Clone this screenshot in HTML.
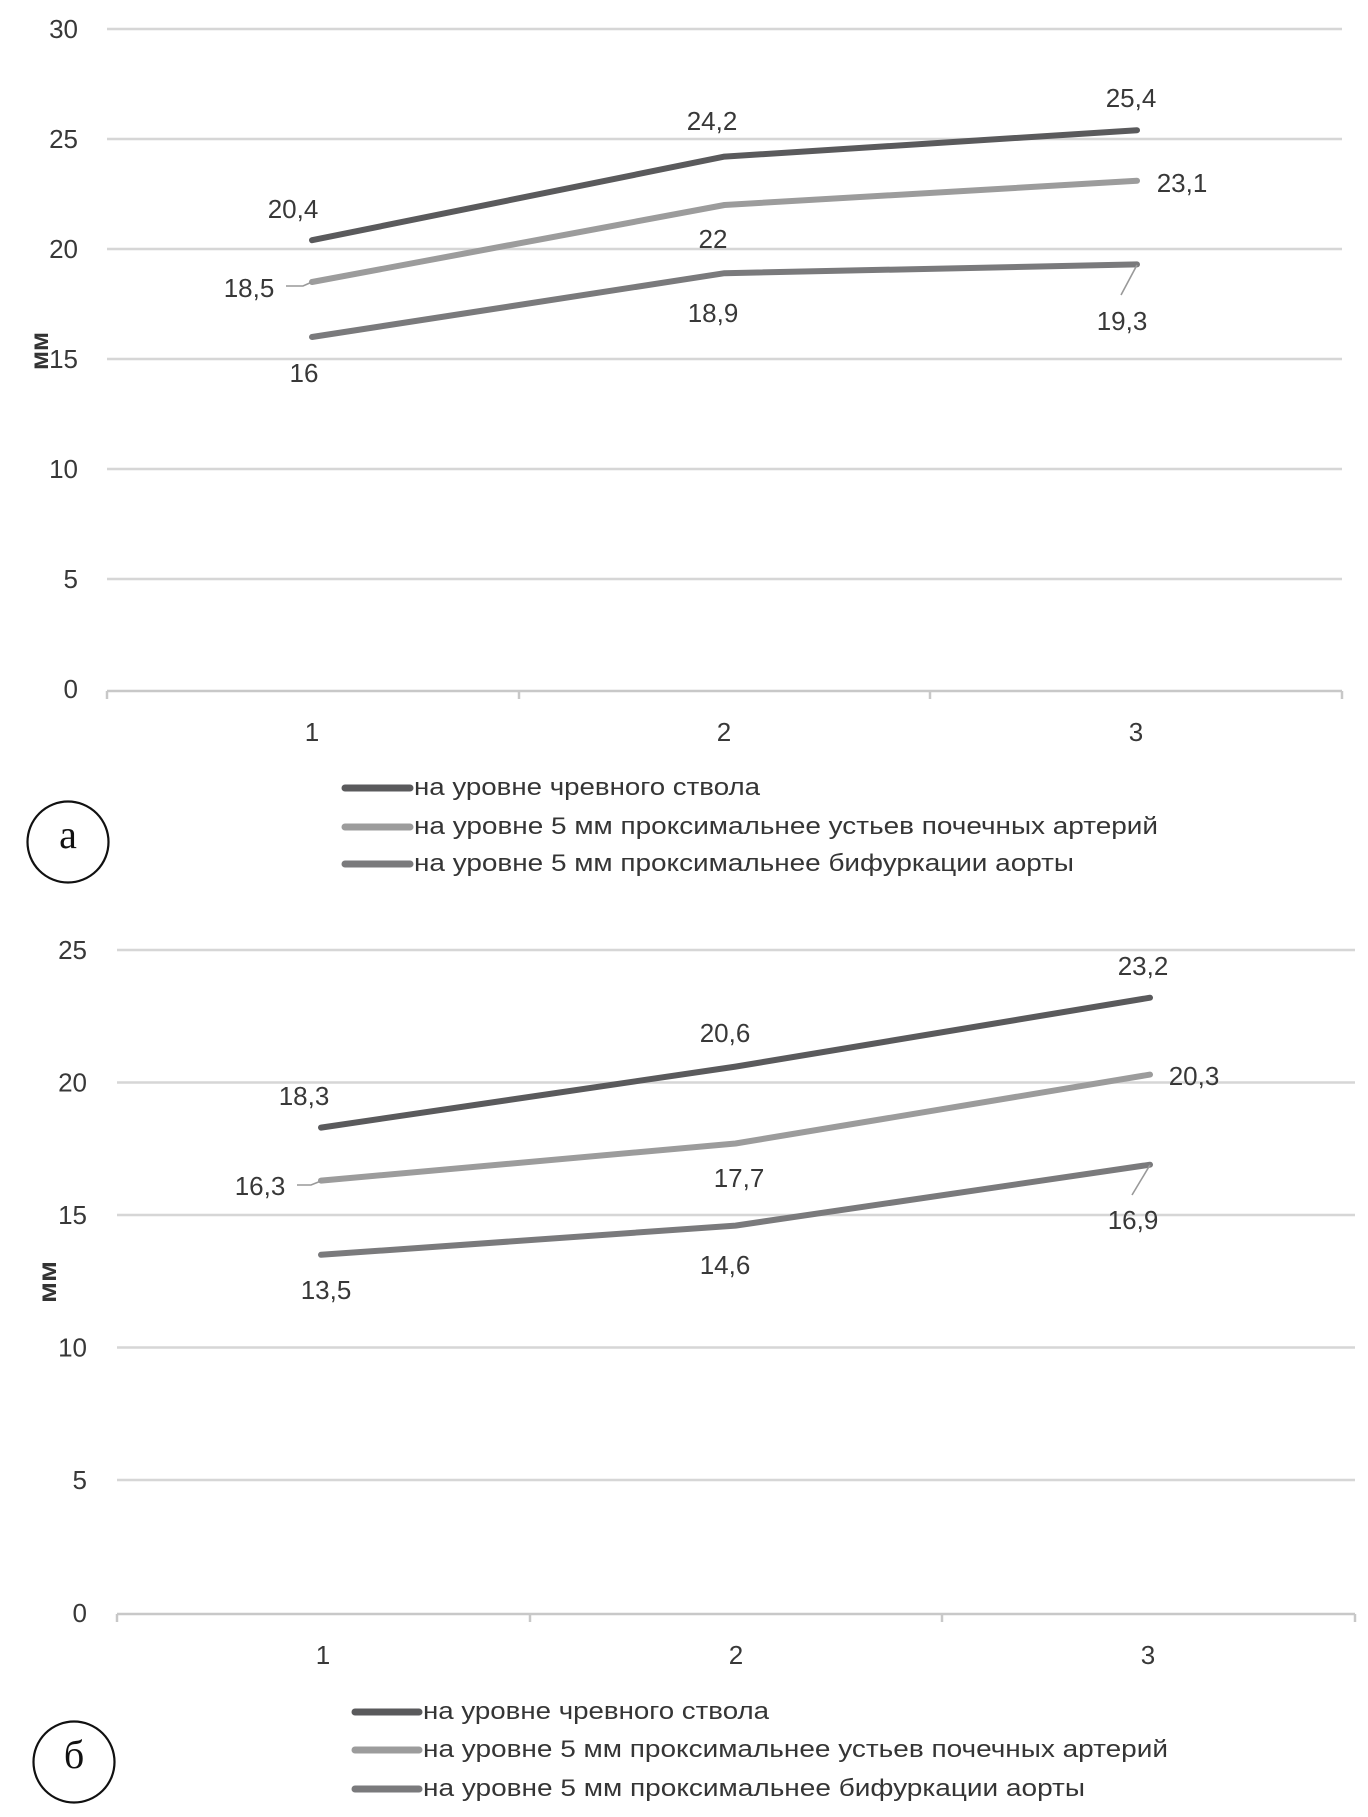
<!DOCTYPE html>
<html>
<head>
<meta charset="utf-8">
<style>
html,body{margin:0;padding:0;background:#fff;}
svg{display:block;}
text{font-family:"Liberation Sans","DejaVu Sans",sans-serif;}
.num{font-size:26px;fill:#383838;}
.lg{font-size:24px;fill:#353535;}
.ttl{font-size:26px;font-weight:bold;fill:#333;}
.ser{font-family:"Liberation Serif","DejaVu Serif",serif;font-size:40px;fill:#111;}
</style>
</head>
<body>
<svg width="1368" height="1817" viewBox="0 0 1368 1817" xmlns="http://www.w3.org/2000/svg">
<rect width="1368" height="1817" fill="#fff"/>

<!-- ================= Chart a ================= -->
<g stroke="#d6d6d6" stroke-width="2.5">
  <line x1="107" y1="29" x2="1342" y2="29"/>
  <line x1="107" y1="139" x2="1342" y2="139"/>
  <line x1="107" y1="249" x2="1342" y2="249"/>
  <line x1="107" y1="359" x2="1342" y2="359"/>
  <line x1="107" y1="469" x2="1342" y2="469"/>
  <line x1="107" y1="579" x2="1342" y2="579"/>
</g>
<g stroke="#c8c8c8" stroke-width="2.5">
  <line x1="107" y1="691" x2="1342" y2="691"/>
  <line x1="107" y1="691" x2="107" y2="699"/>
  <line x1="519" y1="691" x2="519" y2="699"/>
  <line x1="930" y1="691" x2="930" y2="699"/>
  <line x1="1342" y1="691" x2="1342" y2="699"/>
</g>
<g class="num" text-anchor="end">
  <text x="78" y="38">30</text>
  <text x="78" y="148">25</text>
  <text x="78" y="258">20</text>
  <text x="78" y="368">15</text>
  <text x="78" y="478">10</text>
  <text x="78" y="588">5</text>
  <text x="78" y="698">0</text>
</g>
<g class="num" text-anchor="middle">
  <text x="312" y="741">1</text>
  <text x="724" y="741">2</text>
  <text x="1136" y="741">3</text>
</g>
<text class="ttl" transform="translate(48,351) rotate(-90)" text-anchor="middle" textLength="38" lengthAdjust="spacingAndGlyphs">мм</text>

<!-- series a -->
<g fill="none" stroke-width="6" stroke-linecap="round" stroke-linejoin="round">
  <polyline stroke="#5a5a5c" points="312,240.2 724.5,156.6 1137,130.2"/>
  <polyline stroke="#9c9c9c" points="312,282 724.5,205 1137,180.8"/>
  <polyline stroke="#7a7a7c" points="312,337 724.5,273.2 1137,264.4"/>
</g>
<g fill="none" stroke="#999" stroke-width="1.6">
  <polyline points="286,286 303,286 312,282"/>
  <polyline points="1137,265 1121,295"/>
</g>
<g class="num" text-anchor="middle">
  <text x="293" y="218">20,4</text>
  <text x="249" y="297">18,5</text>
  <text x="304" y="382">16</text>
  <text x="712" y="130">24,2</text>
  <text x="713" y="248">22</text>
  <text x="713" y="322">18,9</text>
  <text x="1131" y="107">25,4</text>
  <text x="1182" y="192">23,1</text>
  <text x="1122" y="330">19,3</text>
</g>

<!-- legend a -->
<g stroke-width="7" stroke-linecap="round">
  <line x1="345" y1="788" x2="410" y2="788" stroke="#5a5a5c"/>
  <line x1="345" y1="827" x2="410" y2="827" stroke="#9c9c9c"/>
  <line x1="345" y1="864" x2="410" y2="864" stroke="#7a7a7c"/>
</g>
<g class="lg">
  <text x="414" y="795" textLength="346" lengthAdjust="spacingAndGlyphs">на уровне чревного ствола</text>
  <text x="414" y="834" textLength="744" lengthAdjust="spacingAndGlyphs">на уровне 5 мм проксимальнее устьев почечных артерий</text>
  <text x="414" y="871" textLength="660" lengthAdjust="spacingAndGlyphs">на уровне 5 мм проксимальнее бифуркации аорты</text>
</g>
<circle cx="68" cy="842" r="40.5" fill="none" stroke="#111" stroke-width="2.2"/>
<text class="ser" x="68" y="848" text-anchor="middle">а</text>

<!-- ================= Chart б ================= -->
<g stroke="#d6d6d6" stroke-width="2.5">
  <line x1="117" y1="950" x2="1355" y2="950"/>
  <line x1="117" y1="1082.5" x2="1355" y2="1082.5"/>
  <line x1="117" y1="1215" x2="1355" y2="1215"/>
  <line x1="117" y1="1347.5" x2="1355" y2="1347.5"/>
  <line x1="117" y1="1480" x2="1355" y2="1480"/>
</g>
<g stroke="#c8c8c8" stroke-width="2.5">
  <line x1="117" y1="1614" x2="1355" y2="1614"/>
  <line x1="117" y1="1614" x2="117" y2="1622"/>
  <line x1="530" y1="1614" x2="530" y2="1622"/>
  <line x1="942" y1="1614" x2="942" y2="1622"/>
  <line x1="1355" y1="1614" x2="1355" y2="1622"/>
</g>
<g class="num" text-anchor="end">
  <text x="87" y="959">25</text>
  <text x="87" y="1091.5">20</text>
  <text x="87" y="1224">15</text>
  <text x="87" y="1356.5">10</text>
  <text x="87" y="1489">5</text>
  <text x="87" y="1622">0</text>
</g>
<g class="num" text-anchor="middle">
  <text x="323" y="1664">1</text>
  <text x="736" y="1664">2</text>
  <text x="1148" y="1664">3</text>
</g>
<text class="ttl" transform="translate(56,1282) rotate(-90)" text-anchor="middle" textLength="42" lengthAdjust="spacingAndGlyphs">мм</text>

<!-- series б -->
<g fill="none" stroke-width="6" stroke-linecap="round" stroke-linejoin="round">
  <polyline stroke="#5a5a5c" points="321,1127.6 735.5,1066.6 1150,997.7"/>
  <polyline stroke="#9c9c9c" points="321,1180.6 735.5,1143.5 1150,1074.6"/>
  <polyline stroke="#7a7a7c" points="321,1254.8 735.5,1225.6 1150,1164.7"/>
</g>
<g fill="none" stroke="#999" stroke-width="1.6">
  <polyline points="297,1185 311,1185 321,1181"/>
  <polyline points="1150,1165 1132,1195"/>
</g>
<g class="num" text-anchor="middle">
  <text x="304" y="1105">18,3</text>
  <text x="260" y="1195">16,3</text>
  <text x="326" y="1299">13,5</text>
  <text x="725" y="1042">20,6</text>
  <text x="739" y="1187">17,7</text>
  <text x="725" y="1274">14,6</text>
  <text x="1143" y="975">23,2</text>
  <text x="1194" y="1085">20,3</text>
  <text x="1133" y="1229">16,9</text>
</g>

<!-- legend б -->
<g stroke-width="7" stroke-linecap="round">
  <line x1="355" y1="1712" x2="419" y2="1712" stroke="#5a5a5c"/>
  <line x1="355" y1="1750" x2="419" y2="1750" stroke="#9c9c9c"/>
  <line x1="355" y1="1789" x2="419" y2="1789" stroke="#7a7a7c"/>
</g>
<g class="lg">
  <text x="423" y="1719" textLength="346" lengthAdjust="spacingAndGlyphs">на уровне чревного ствола</text>
  <text x="423" y="1757" textLength="745" lengthAdjust="spacingAndGlyphs">на уровне 5 мм проксимальнее устьев почечных артерий</text>
  <text x="423" y="1796" textLength="662" lengthAdjust="spacingAndGlyphs">на уровне 5 мм проксимальнее бифуркации аорты</text>
</g>
<circle cx="74" cy="1762" r="40.5" fill="none" stroke="#111" stroke-width="2.2"/>
<text class="ser" x="74" y="1768" text-anchor="middle">б</text>
</svg>
</body>
</html>
